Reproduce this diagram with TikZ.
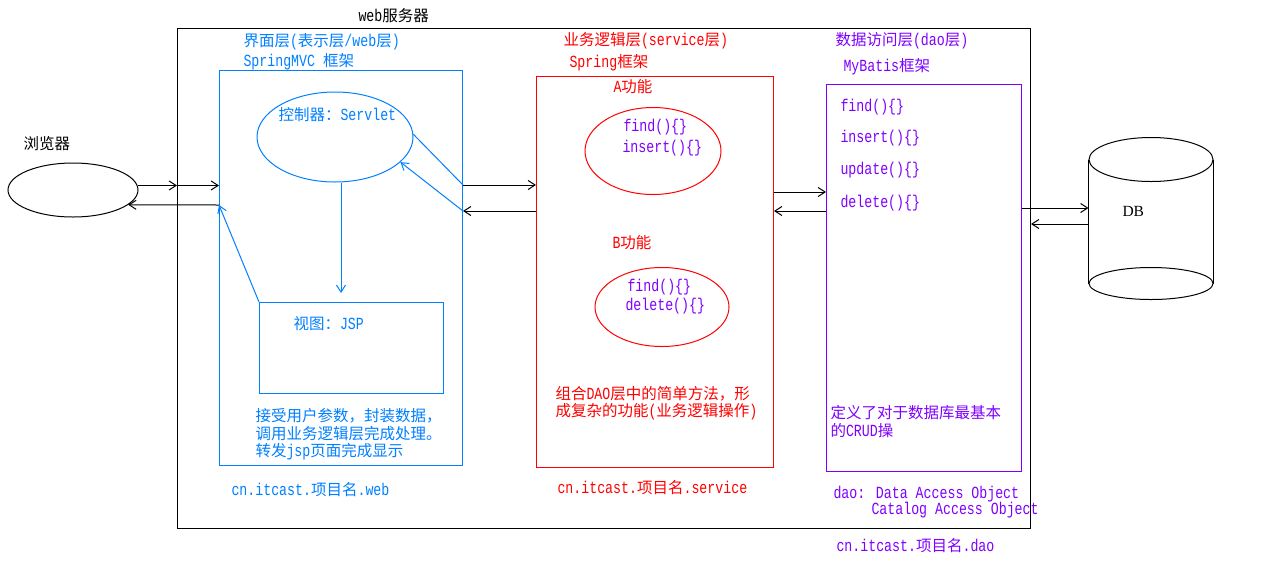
\documentclass[tikz,border=0pt]{standalone}
\usepackage{fontspec}
\setmainfont{Noto Sans CJK SC}
\newfontfamily\mono[FakeStretch=0.78]{Liberation Mono}
\newfontfamily\serifdb{Liberation Serif}
\usetikzlibrary{shapes.geometric,arrows.meta}
\definecolor{cblue}{HTML}{0080FF}
\definecolor{cred}{HTML}{FF0000}
\definecolor{cpurp}{HTML}{8000FF}
\newcommand\mm[1]{{\mono\fontsize{17}{17.5}\selectfont #1}}
\begin{document}
\begin{tikzpicture}[x=1pt,y=-1pt,line width=1pt,
  txt/.style={inner sep=0pt,anchor=west,font=\fontsize{15.5}{17.5}\selectfont,align=left},
  box/.style={draw,rectangle,inner sep=0pt,anchor=north west},
  oval/.style={draw,ellipse,inner sep=0pt},
  arr/.style={-{Straight Barb[length=7pt,width=9pt]}}]
\useasboundingbox (0,0) rectangle (1287,574);
\fill[white] (0,0) rectangle (1287,574);
% containers
\node[box,minimum width=853pt,minimum height=500pt] (server) at (177,28) {};
\node[box,cblue,minimum width=243pt,minimum height=395pt] (web) at (219,70) {};
\node[oval,cblue,minimum width=156pt,minimum height=90pt] (ctrl) at (335,137) {};
\node[box,cblue,minimum width=184pt,minimum height=91pt] (view) at (259,302) {};
\node[box,cred,minimum width=237pt,minimum height=391pt] (svc) at (536,76) {};
\node[oval,cred,minimum width=136pt,minimum height=87pt] (fa) at (653,151) {};
\node[oval,cred,minimum width=134pt,minimum height=79pt] (fb) at (662,307) {};
\node[box,cpurp,minimum width=195pt,minimum height=387pt] (dao) at (826,84) {};
\node[oval,minimum width=130pt,minimum height=54pt] (browser) at (73,190) {};
\node[inner sep=0pt,minimum width=124pt,minimum height=123pt] (db) at (1151,221.5) {};
\draw (db.north west) -- (db.south west);
\draw (db.north east) -- (db.south east);
\draw[fill=white] (db.north) ellipse (62 and 22);
\draw[fill=white] (db.south) ellipse (62 and 16);
% helper rows
\coordinate (r185) at (0,185);
\coordinate (r192) at (0,192);
\coordinate (r205) at (0,205);
\coordinate (r208) at (0,208);
\coordinate (r211) at (0,211);
\coordinate (r224) at (0,224);
\coordinate (c341) at (341,293);
% connectors
\draw[arr] (browser.4) -- (server.west |- browser.4);
\draw[arr] (server.west |- browser.4) -- (web.west |- browser.4);
\draw[arr] (web.west |- r205) -- (browser.-15);
\draw[cblue] (ctrl.2) -- (web.east |- r185);
\draw[cblue,arr] (web.east |- r211) -- (ctrl.-21);
\draw[cblue,arr] (view.north west) -- (web.west |- r205);
\draw[cblue,arr] (ctrl.south -| c341) -- (c341);
\draw[arr] (web.east |- r185) -- (svc.west |- r185);
\draw[arr] (svc.west |- r211) -- (web.east |- r211);
\draw[arr] (svc.east |- r192) -- (dao.west |- r192);
\draw[arr] (dao.west |- r211) -- (svc.east |- r211);
\draw[arr] (dao.east |- r208) -- (db.west |- r208);
\draw[arr] (db.west |- r224) -- (server.east |- r224);
% texts
\node[txt] (t0) at (358,16) {\mm{web}服务器};
\node[txt] (tb) at (23,144) {浏览器};
\node[txt,font=\serifdb\fontsize{15.5}{17.5}\selectfont] (tdb) at (1122,211) {DB};
\node[txt,cblue] (t1) at (243,42) {界面层\mm{(}表示层\mm{/web}层\mm{)}};
\node[txt,cblue] (t2) at (243,62) {\mm{SpringMVC }框架};
\node[txt,cblue] (t3) at (278,115) {控制器：\mm{Servlet}};
\node[txt,cblue] (t4) at (293,324) {视图：\mm{JSP}};
\node[txt,cblue] (t5) at (255,434.5) {接受用户参数，封装数据，\\调用业务逻辑层完成处理。\\转发\mm{jsp}页面完成显示};
\node[txt,cblue] (t6) at (231,490) {\mm{cn.itcast.}项目名\mm{.web}};
\node[txt,cred] (s1) at (563,41) {业务逻辑层\mm{(service}层\mm{)}};
\node[txt,cred] (s2) at (569,63) {\mm{Spring}框架};
\node[txt,cred] (s3) at (613,87) {\mm{A}功能};
\node[txt,cpurp] (s4) at (623,127) {\mm{find()\{\}}};
\node[txt,cpurp] (s5) at (622,148) {\mm{insert()\{\}}};
\node[txt,cred] (s6) at (612,243) {\mm{B}功能};
\node[txt,cpurp] (s7) at (627,287) {\mm{find()\{\}}};
\node[txt,cpurp] (s8) at (625,306) {\mm{delete()\{\}}};
\node[txt,cred] (s9) at (555,403) {组合\mm{DAO}层中的简单方法，形\\成复杂的功能\mm{(}业务逻辑操作\mm{)}};
\node[txt,cred] (s10) at (557,488) {\mm{cn.itcast.}项目名\mm{.service}};
\node[txt,cpurp] (d1) at (835,41) {数据访问层\mm{(dao}层\mm{)}};
\node[txt,cpurp] (d2) at (843,67) {\mm{MyBatis}框架};
\node[txt,cpurp] (d3) at (840,107) {\mm{find()\{\}}};
\node[txt,cpurp] (d4) at (840,138) {\mm{insert()\{\}}};
\node[txt,cpurp] (d5) at (840,170) {\mm{update()\{\}}};
\node[txt,cpurp] (d6) at (840,203) {\mm{delete()\{\}}};
\node[txt,cpurp] (d7) at (830,421.5) {定义了对于数据库最基本\\的\mm{CRUD}操};
\node[txt,cpurp] (d8) at (833,494) {\mm{dao: Data Access Object}};
\node[txt,cpurp] (d9) at (871,510) {\mm{Catalog Access Object}};
\node[txt,cpurp] (d10) at (836,546) {\mm{cn.itcast.}项目名\mm{.dao}};
\end{tikzpicture}
\end{document}
